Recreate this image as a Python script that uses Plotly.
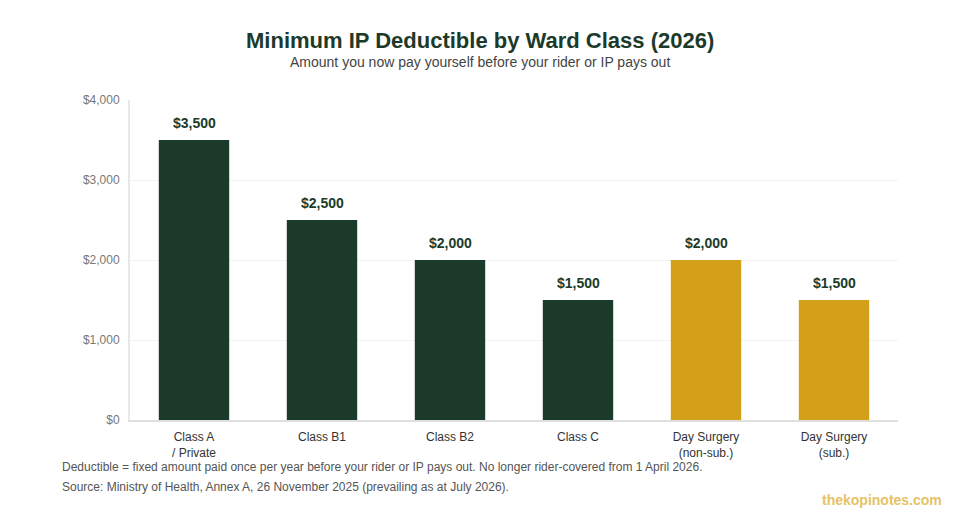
import plotly.graph_objects as go

categories = ["Class A<br>/ Private", "Class B1", "Class B2", "Class C", "Day Surgery<br>(non-sub.)", "Day Surgery<br>(sub.)"]
values = [3500, 2500, 2000, 1500, 2000, 1500]
bar_colors = ["#1c3a2a", "#1c3a2a", "#1c3a2a", "#1c3a2a", "#d4a01a", "#d4a01a"]
labels = ["$3,500", "$2,500", "$2,000", "$1,500", "$2,000", "$1,500"]
y_ticks = [0, 1000, 2000, 3000, 4000]
y_tick_text = ["$0", "$1,000", "$2,000", "$3,000", "$4,000"]

FONT = "Liberation Sans, Arial, sans-serif"
W, H = 960, 520
L, R, T, B = 130, 62, 100, 100
PW, PH = W - L - R, H - T - B


def px(x):
    return (x - L) / PW


def py(y):
    return 1 - (y - T) / PH


fig = go.Figure(go.Bar(
    x=categories, y=values,
    marker=dict(color=bar_colors, line=dict(width=0)),
    hoverinfo="skip",
))


def ann(text, x, y, size, color, xanchor="center"):
    return dict(text=text, x=px(x), y=py(y), xref="paper", yref="paper",
                showarrow=False, xanchor=xanchor, yanchor="middle",
                font=dict(size=size, color=color, family=FONT))


bar_labels = [
    dict(text=f"<b>{t}</b>", x=c, y=v, xref="x", yref="y", showarrow=False,
         yanchor="bottom", yshift=7, font=dict(size=14, color="#1c3a2a", family=FONT))
    for c, v, t in zip(categories, values, labels)
]

fig.update_layout(
    width=W, height=H,
    margin=dict(l=L, r=R, t=T, b=B),
    paper_bgcolor="white", plot_bgcolor="white",
    bargap=0.45,
    showlegend=False,
    font=dict(family=FONT, color="#333"),
    xaxis=dict(
        showline=True, linecolor="#e0e0e0", linewidth=2,
        ticks="", tickfont=dict(size=12, color="#333"),
        ticklabelstandoff=5,
        showgrid=False, fixedrange=True,
    ),
    yaxis=dict(
        range=[0, 4000], tickvals=y_ticks, ticktext=y_tick_text,
        showline=True, linecolor="#e8e8e8", linewidth=2,
        gridcolor="#f2f2f2", gridwidth=1,
        tickfont=dict(size=12, color="#777"), ticks="",
        ticklabelstandoff=6,
        zeroline=False, fixedrange=True,
    ),
    annotations=bar_labels + [
        ann("<b>Minimum IP Deductible by Ward Class (2026)</b>", 480, 40, 22, "#1c3a2a"),
        ann("Amount you now pay yourself before your rider or IP pays out", 480, 62, 14, "#444"),
        ann("Deductible = fixed amount paid once per year before your rider or IP pays out. No longer rider-covered from 1 April 2026.",
            60, 467, 12, "#555", "left"),
        ann("Source: Ministry of Health, Annex A, 26 November 2025 (prevailing as at July 2026).",
            60, 487, 12, "#555", "left"),
        ann("<b>thekopinotes.com</b>", 944, 500, 14, "#e6c265", "right"),
    ],
)

fig.write_html("out.html")
